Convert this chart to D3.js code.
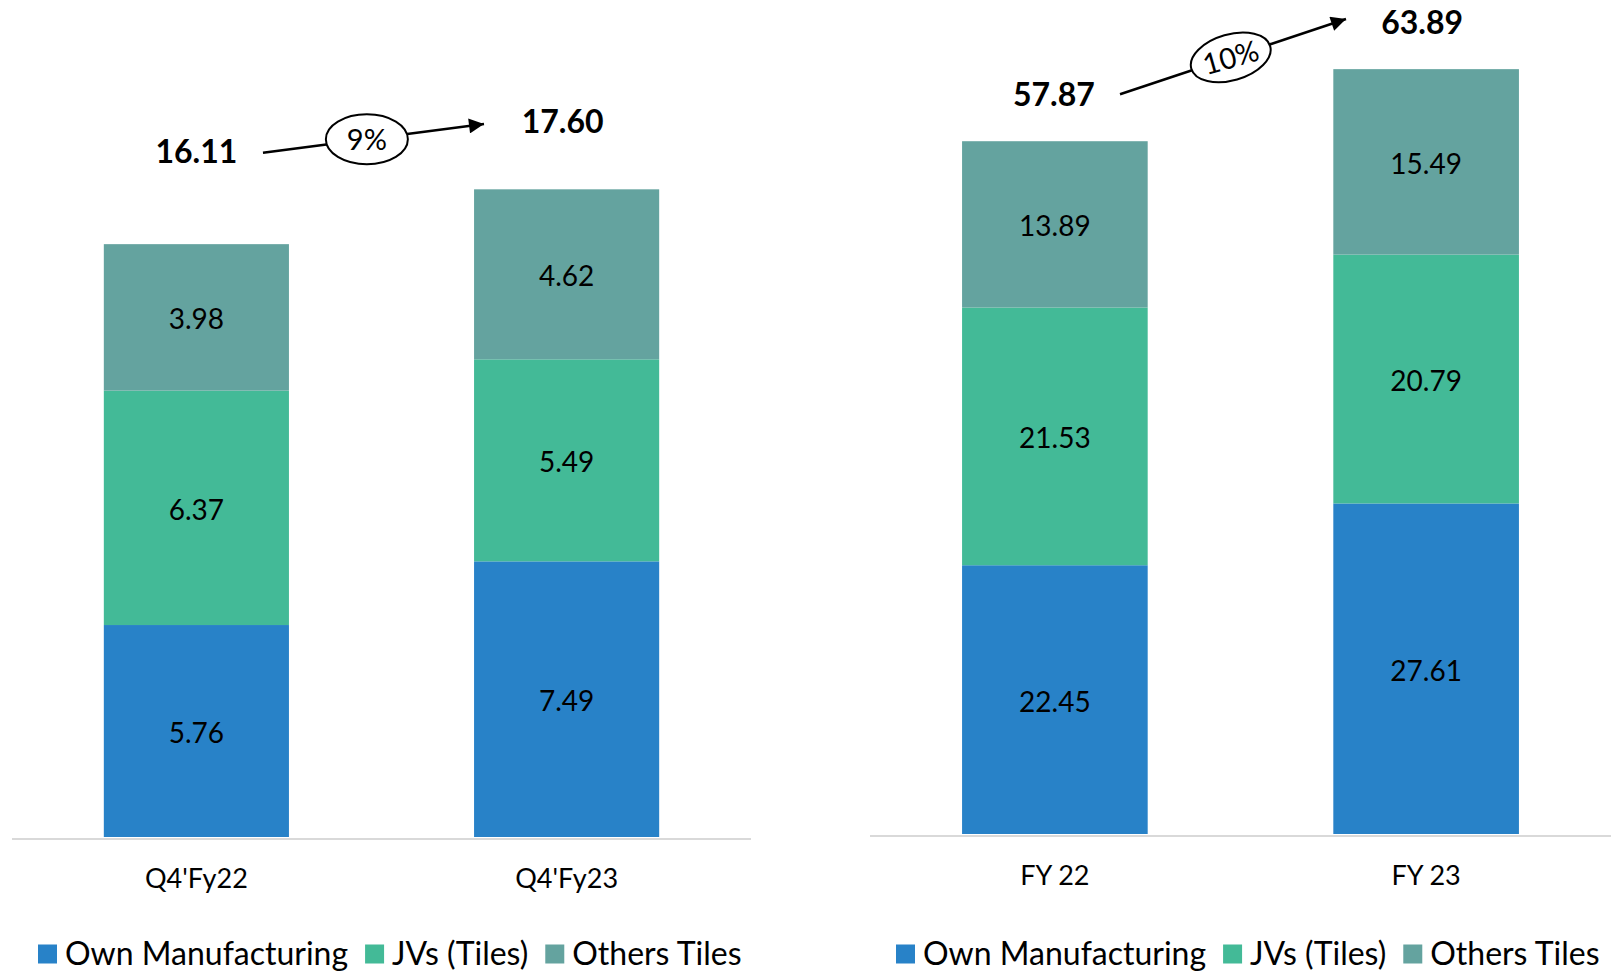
<!DOCTYPE html>
<html>
<head>
<meta charset="utf-8">
<script src="https://cdn.jsdelivr.net/npm/d3@7"></script>
<style>
  html, body { margin: 0; padding: 0; background: #fff; }
  svg { display: block; font-family: Lato, "Open Sans", sans-serif; }
</style>
</head>
<body>
<svg id="chart" width="1614" height="980"></svg>
<script>
// Revenue split by source (Rs. Cr)
const seriesNames = ["Own Manufacturing", "JVs (Tiles)", "Others Tiles"];
const seriesColors = ["#2882c8", "#43ba97", "#64a39f"];

const quarterCategories = ["Q4'Fy22", "Q4'Fy23"];
const quarterOwn = [5.76, 7.49];
const quarterJV = [6.37, 5.49];
const quarterOthers = [3.98, 4.62];
const quarterTotals = [16.11, 17.60];
const quarterGrowth = "9%";

const yearCategories = ["FY 22", "FY 23"];
const yearOwn = [22.45, 27.61];
const yearJV = [21.53, 20.79];
const yearOthers = [13.89, 15.49];
const yearTotals = [57.87, 63.89];
const yearGrowth = "10%";

const svg = d3.select("#chart");

const defs = svg.append("defs");
defs.append("marker")
  .attr("id", "arrowhead")
  .attr("viewBox", "0 0 10 10")
  .attr("refX", 10).attr("refY", 5)
  .attr("markerWidth", 7).attr("markerHeight", 6)
  .attr("markerUnits", "strokeWidth")
  .attr("orient", "auto")
  .append("path").attr("d", "M0,0 L10,5 L0,10 Z").attr("fill", "#000");

function panel(cfg) {
  const { categories, own, jv, others, totals, growth } = cfg;
  const rows = categories.map((c, i) => ({
    cat: c, own: own[i], jv: jv[i], others: others[i], total: totals[i]
  }));
  const keys = ["own", "jv", "others"];
  const stacked = d3.stack().keys(keys)(rows);

  const x = d3.scaleBand().domain(categories)
    .range([cfg.x0, cfg.x1]).paddingInner(cfg.padInner).paddingOuter(cfg.padOuter);
  const y = d3.scaleLinear().domain([0, cfg.yMax]).range([cfg.base, cfg.top]);

  const g = svg.append("g");

  // stacked bars
  stacked.forEach((layer, li) => {
    const lg = g.append("g").attr("fill", seriesColors[li]);
    lg.selectAll("rect").data(layer).join("rect")
      .attr("x", d => x(d.data.cat))
      .attr("width", x.bandwidth())
      .attr("y", d => y(d[1]))
      .attr("height", d => y(d[0]) - y(d[1]));
    lg.selectAll("text").data(layer).join("text")
      .attr("x", d => x(d.data.cat) + x.bandwidth() / 2)
      .attr("y", d => (y(d[0]) + y(d[1])) / 2 + 2)
      .attr("dy", "0.36em")
      .attr("text-anchor", "middle")
      .attr("fill", "#000")
      .attr("font-size", 28)
      .text(d => (d[1] - d[0]).toFixed(2));
  });

  // baseline axis
  const axis = g.append("g").attr("transform", `translate(0,${cfg.base + 2})`)
    .call(d3.axisBottom(x).tickSize(0).tickPadding(0));
  axis.select(".domain").attr("stroke", "#d9d9d9").attr("stroke-width", 2)
    .attr("d", `M${cfg.x0},0H${cfg.x1}`);
  axis.selectAll(".tick text")
    .attr("font-family", "Lato, 'Open Sans', sans-serif")
    .attr("font-size", 27).attr("fill", "#000")
    .attr("y", 40).attr("dy", "0.35em");

  // totals above bars
  g.selectAll("text.total").data(rows).join("text")
    .attr("class", "total")
    .attr("x", (d, i) => x(d.cat) + x.bandwidth() / 2 + cfg.totalDx[i])
    .attr("y", (d, i) => y(d.total) - cfg.totalDy[i])
    .attr("dy", "0.36em")
    .attr("text-anchor", "middle")
    .attr("font-size", 32).attr("font-weight", 700)
    .text(d => d.total.toFixed(2));

  // growth arrow with ellipse badge
  const a = cfg.arrow;
  g.append("line")
    .attr("x1", a.x1).attr("y1", a.y1).attr("x2", a.x2).attr("y2", a.y2)
    .attr("stroke", "#000").attr("stroke-width", 2.5)
    .attr("marker-end", "url(#arrowhead)");
  const cx = a.x1 + (a.x2 - a.x1) * a.t, cy = a.y1 + (a.y2 - a.y1) * a.t;
  const badge = g.append("g")
    .attr("transform", `translate(${cx},${cy}) rotate(${a.rot})`);
  badge.append("ellipse").attr("rx", a.rx).attr("ry", a.ry)
    .attr("fill", "#fff").attr("stroke", "#000").attr("stroke-width", 2);
  badge.append("text").attr("text-anchor", "middle").attr("dy", "0.36em")
    .attr("font-size", 29).text(growth);

  // legend
  const lg = g.append("g").attr("transform", `translate(${cfg.legendX},${cfg.legendY})`);
  let cursor = 0;
  seriesNames.forEach((name, i) => {
    const item = lg.append("g").attr("transform", `translate(${cursor},0)`);
    item.append("rect").attr("x", 0).attr("y", -9.5).attr("width", 19).attr("height", 19)
      .attr("fill", seriesColors[i]);
    const t = item.append("text").attr("x", 27).attr("dy", "0.35em")
      .attr("font-size", 32).attr("fill", "#000").text(name);
    cursor += 27 + t.node().getComputedTextLength() + 17;
  });
}

panel({
  categories: quarterCategories, own: quarterOwn, jv: quarterJV, others: quarterOthers,
  totals: quarterTotals, growth: quarterGrowth,
  x0: 12, x1: 751, padInner: 0.5, padOuter: 0.248,
  base: 837, top: 101, yMax: 20,
  totalDx: [0, -4], totalDy: [93, 68],
  arrow: { x1: 263, y1: 152.7, x2: 484, y2: 124, t: 0.47, rx: 41, ry: 25, rot: 0 },
  legendX: 38, legendY: 954
});

panel({
  categories: yearCategories, own: yearOwn, jv: yearJV, others: yearOthers,
  totals: yearTotals, growth: yearGrowth,
  x0: 870, x1: 1611, padInner: 0.5, padOuter: 0.248,
  base: 834, top: -4, yMax: 70,
  totalDx: [-1, -4], totalDy: [47, 47],
  arrow: { x1: 1120, y1: 94.3, x2: 1346, y2: 19, t: 0.49, rx: 41, ry: 23, rot: -16 },
  legendX: 896, legendY: 954
});
</script>
</body>
</html>
